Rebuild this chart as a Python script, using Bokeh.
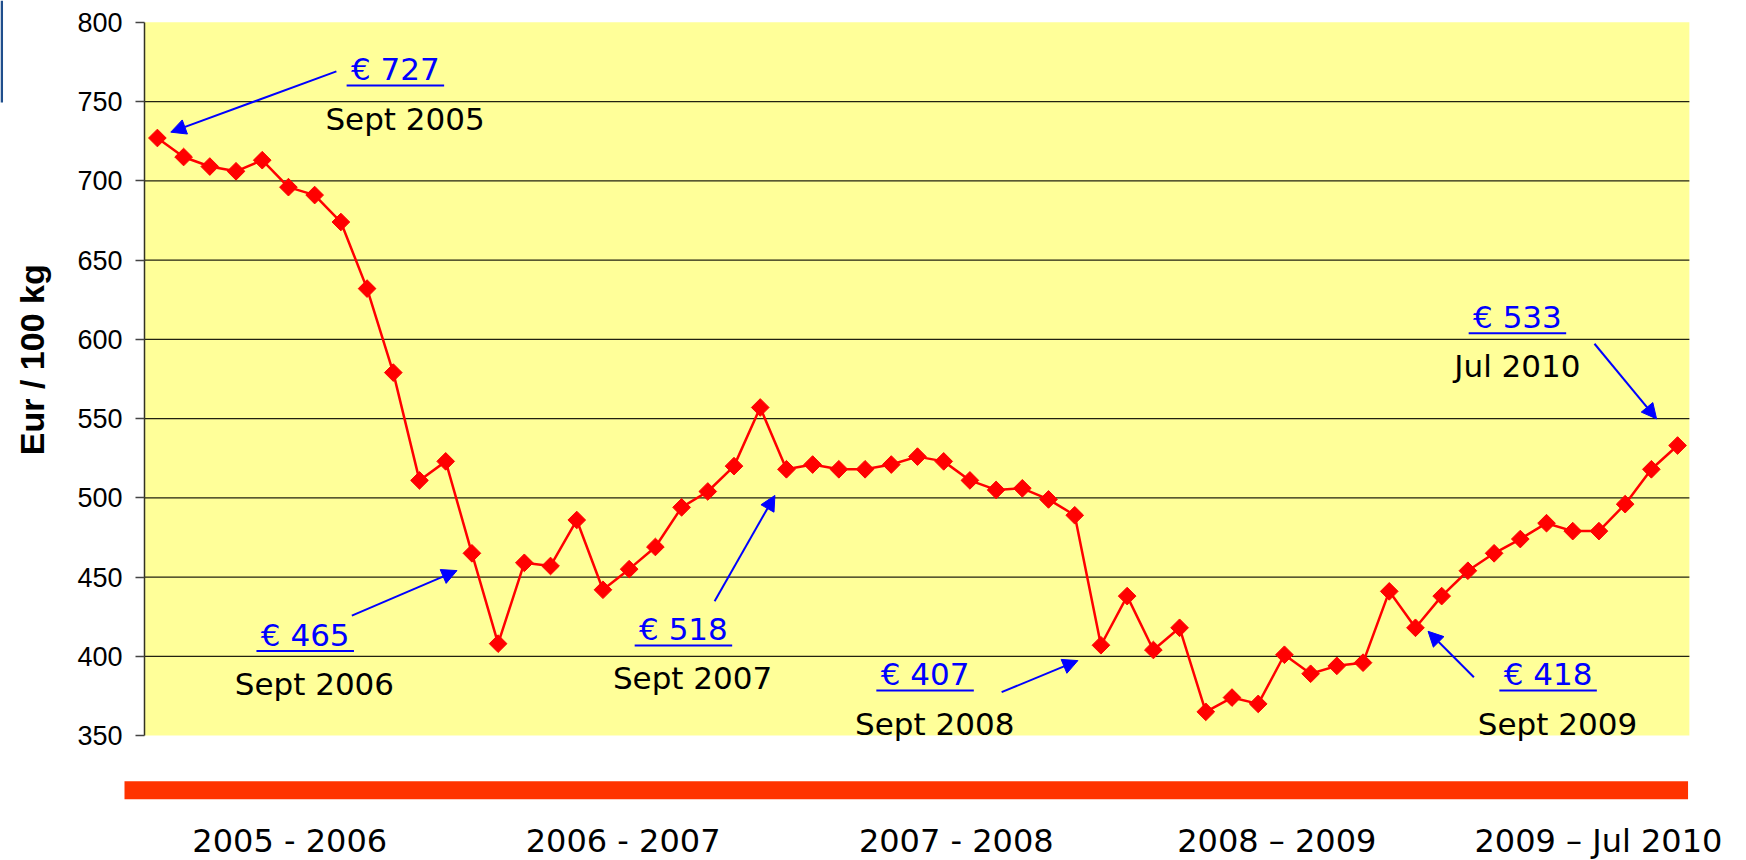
import math
from bokeh.plotting import figure
from bokeh.models import Range1d, FixedTicker, Arrow, NormalHead, ColumnDataSource
from bokeh.core.properties import value
from bokeh.embed import file_html
from bokeh.resources import INLINE

# ---------------- data ----------------
# monthly price, Sept 2005 .. Jul 2010 (59 months), Eur / 100 kg
prices = [727, 715, 709, 706, 713, 696, 691, 674, 632, 579,
          511, 523, 465, 408, 459, 457, 486, 442, 455, 469,
          494, 504, 520, 557, 518, 521, 518, 518, 521, 526,
          523, 511, 505, 506, 499, 489, 407, 438, 404, 418,
          365, 374, 370, 401, 389, 394, 396, 441, 418, 438,
          454, 465, 474, 484, 479, 479, 496, 518, 533]
months = list(range(len(prices)))

periods = ["2005 - 2006", "2006 - 2007", "2007 - 2008", "2008 \u2013 2009", "2009 \u2013 Jul 2010"]

callout_index = [0, 12, 24, 36, 48, 58]
callout_price = ["\u20ac 727", "\u20ac 465", "\u20ac 518", "\u20ac 407", "\u20ac 418", "\u20ac 533"]
callout_date = ["Sept 2005", "Sept 2006", "Sept 2007", "Sept 2008", "Sept 2009", "Jul 2010"]

y_ticks = [350, 400, 450, 500, 550, 600, 650, 700, 750, 800]
y_title = "Eur / 100 kg"

# ---------------- layout (positions in axis units) ----------------
X0, X1 = -5.986, 60.63
Y0, Y1 = 271.2, 813.75
PLOT_LEFT, PLOT_RIGHT = -0.49, 58.45
TXT = 7.0  # baseline correction for svg text

label_x = [9.08, 5.64, 20.07, 29.29, 53.06, 51.89]
date_dx = [0.37, 0.35, 0.35, 0.37, 0.36, 0.0]
price_base = [763.3, 406.4, 410.0, 381.6, 381.6, 607.0]
date_base = [732.2, 375.3, 379.1, 350.5, 350.5, 576.1]
arrow_start = [(6.83, 769.0), (7.42, 425.7), (21.26, 434.8), (32.21, 377.4), (50.23, 386.8), (54.83, 597.2)]
arrow_tip_off = [(0.51, 3.7), (-0.57, -10.9), (-0.44, -16.5), (-0.88, -9.7), (0.48, -2.2), (-0.80, 16.8)]
UL_HALF = 1.86
UL_DROP = 3.1

period_x = [5.05, 17.77, 30.48, 42.71, 54.98]
period_base = 276.8
bar_left, bar_right, bar_bottom, bar_top = -1.255, 58.4, 309.8, 321.2
ytitle_x, ytitle_y = -4.77, 587.1
edge_right, edge_bottom = -5.89, 749.4

p = figure(width=1746, height=860, x_range=Range1d(X0, X1), y_range=Range1d(Y0, Y1),
           output_backend="svg", toolbar_location=None, x_axis_location=None,
           min_border_left=0, min_border_right=0, min_border_top=0, min_border_bottom=0)
p.outline_line_color = None
p.grid.visible = False
p.background_fill_color = "white"
p.border_fill_color = "white"

# slide edge decoration (top-left)
p.quad(left=X0, right=edge_right, bottom=edge_bottom, top=Y1, fill_color="#1F4E8C", line_color=None)

# plot area (yellow) and grid lines
p.quad(left=PLOT_LEFT, right=PLOT_RIGHT, bottom=y_ticks[0], top=y_ticks[-1],
       fill_color="#FFFF99", line_color=None)
grid_vals = y_ticks[1:-1]
p.segment(x0=[PLOT_LEFT] * len(grid_vals), x1=[PLOT_RIGHT] * len(grid_vals), y0=grid_vals, y1=grid_vals,
          line_color="#222211", line_width=1.2)

# y axis, drawn at the left edge of the plot area
ax = p.yaxis[0]
ax.fixed_location = PLOT_LEFT
ax.ticker = FixedTicker(ticks=y_ticks)
ax.bounds = (y_ticks[0], y_ticks[-1])
ax.major_tick_out = 9
ax.major_tick_in = 0
ax.minor_tick_line_color = None
ax.major_label_standoff = 13
ax.major_label_text_font = "Liberation Sans"
ax.major_label_text_font_size = "27px"
ax.major_label_text_color = "black"
ax.axis_line_color = "#333322"
ax.axis_line_width = 1.5
ax.major_tick_line_color = "#444444"
ax.major_tick_line_width = 1.5

p.text(x=[ytitle_x], y=[ytitle_y], text=[y_title], angle=math.pi / 2,
       text_font=value("Liberation Sans"), text_font_style="bold", text_font_size=value("34px"),
       text_align="center", text_baseline="alphabetic", text_color="black")

# series
src = ColumnDataSource(dict(x=months, y=prices))
p.line("x", "y", source=src, line_color="#FF0000", line_width=2.5)
p.scatter("x", "y", source=src, marker="square", angle=0.785398, size=12.5,
          fill_color="#FF0000", line_color="#FF0000")

# callouts
blue = "#0000FF"
p.text(x=label_x, y=[b + TXT for b in price_base], text=callout_price, text_font=value("DejaVu Sans"),
       text_font_size=value("31px"), text_align="center", text_baseline="alphabetic",
       text_color=blue)
p.segment(x0=[x - UL_HALF for x in label_x], x1=[x + UL_HALF for x in label_x],
          y0=[b - UL_DROP for b in price_base], y1=[b - UL_DROP for b in price_base],
          line_color=blue, line_width=2)
p.text(x=[x + d for x, d in zip(label_x, date_dx)], y=[b + TXT for b in date_base], text=callout_date,
       text_font=value("DejaVu Sans"), text_font_size=value("31px"), text_align="center",
       text_baseline="alphabetic", text_color="black")
for (sx, sy), (dx, dy), i in zip(arrow_start, arrow_tip_off, callout_index):
    p.add_layout(Arrow(end=NormalHead(size=15, fill_color=blue, line_color=blue),
                       x_start=sx, y_start=sy, x_end=months[i] + dx, y_end=prices[i] + dy,
                       line_color=blue, line_width=2))

# period bar and labels
p.quad(left=bar_left, right=bar_right, bottom=bar_bottom, top=bar_top,
       fill_color="#FF3300", line_color=None)
p.text(x=period_x, y=[period_base + TXT] * len(periods), text=periods, text_font=value("DejaVu Sans"),
       text_font_size=value("32px"), text_align="center", text_baseline="alphabetic",
       text_color="black")

open("out.html", "w").write(file_html(p, INLINE))
